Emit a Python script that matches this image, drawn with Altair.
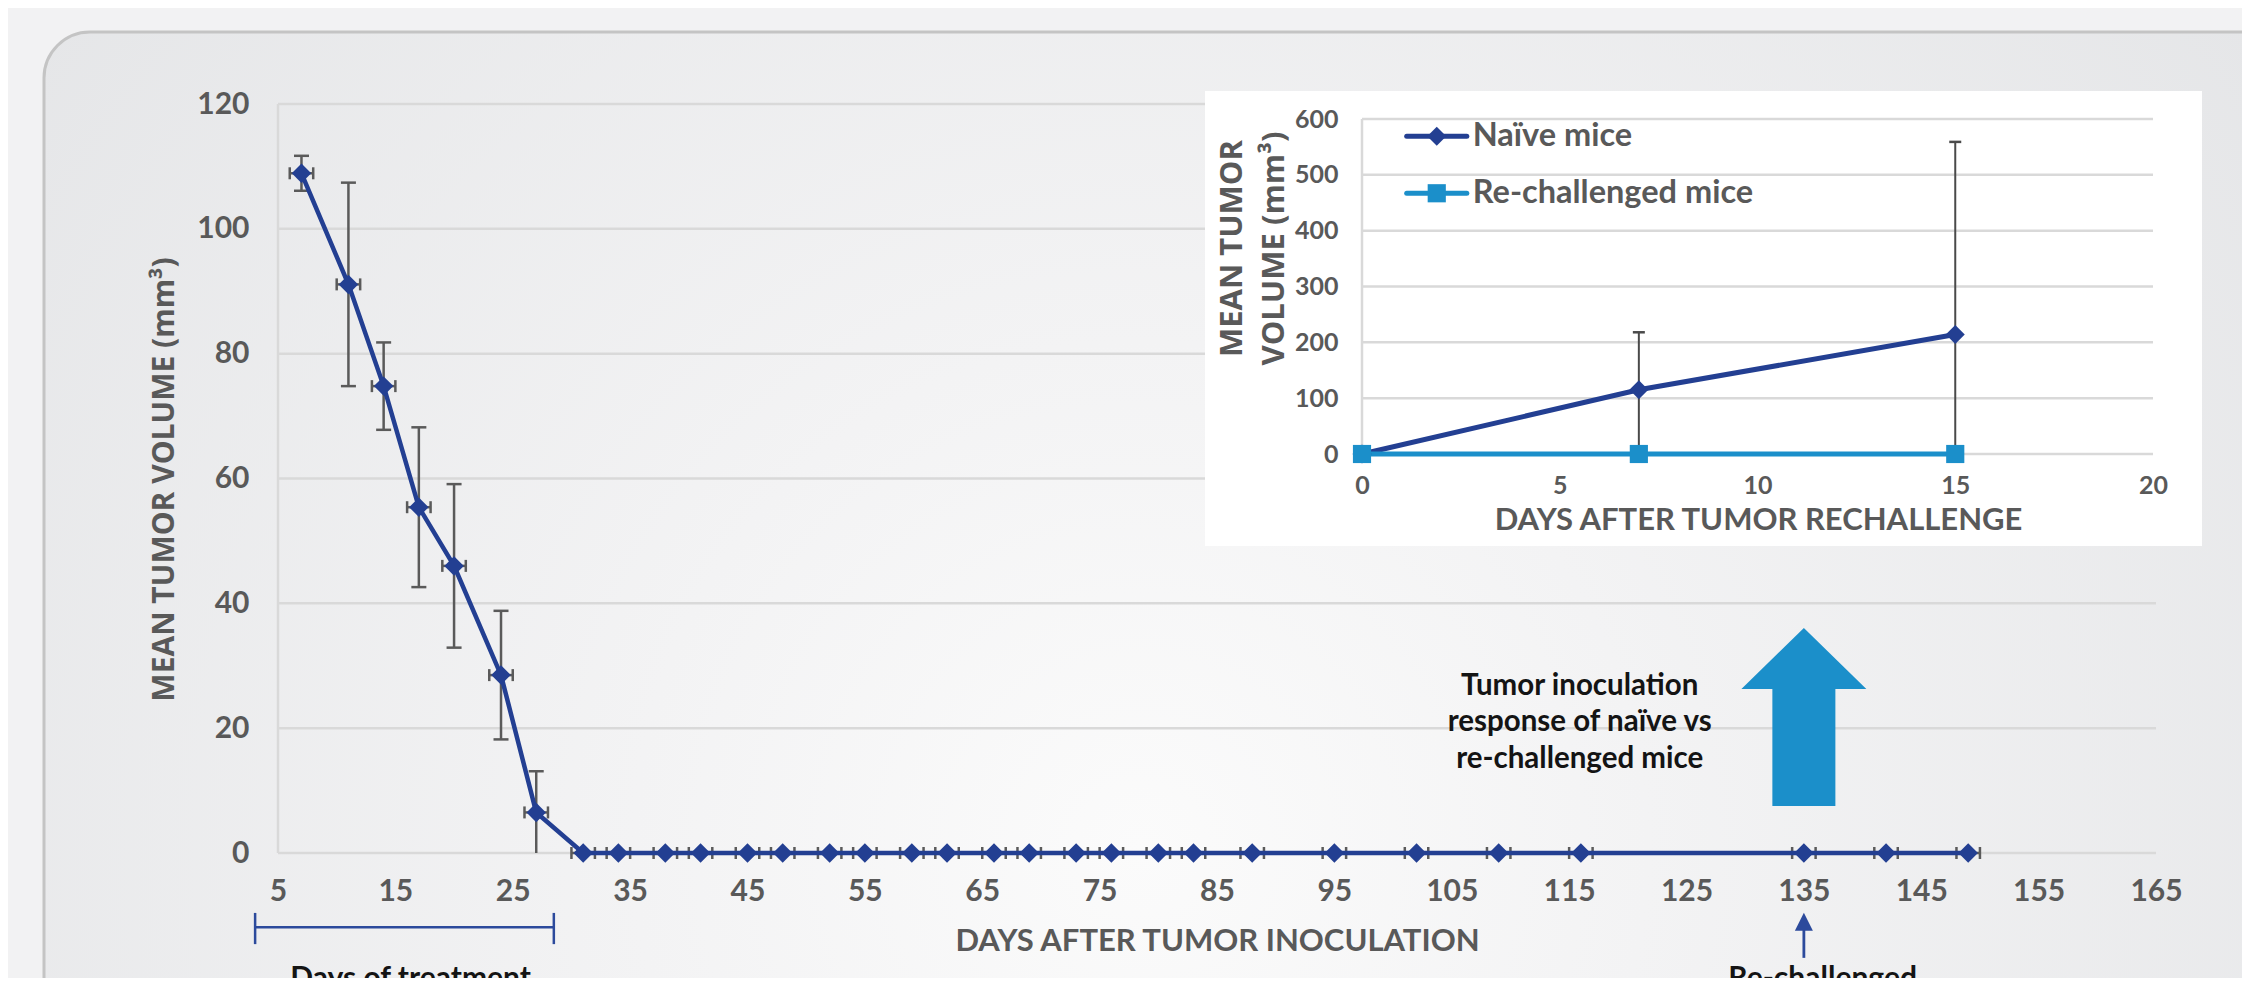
import altair as alt
import pandas as pd

# ---------------- data ----------------
tumor_days = [7, 11, 14, 17, 20, 24, 27, 31, 34, 38, 41, 45, 48, 52, 55, 59,
              62, 66, 69, 73, 76, 80, 83, 88, 95, 102, 109, 116, 135, 142, 149]
tumor_mean = [108.9, 91.1, 74.8, 55.4, 46.0, 28.5, 6.5, 0, 0, 0, 0, 0, 0, 0, 0, 0,
              0, 0, 0, 0, 0, 0, 0, 0, 0, 0, 0, 0, 0, 0, 0]
tumor_sd = [2.8, 16.3, 7.0, 12.8, 13.1, 10.3, 6.6, 0, 0, 0, 0, 0, 0, 0, 0, 0,
            0, 0, 0, 0, 0, 0, 0, 0, 0, 0, 0, 0, 0, 0, 0]
day_sd = [1, 1, 1, 1, 1, 1, 1, 1, 1, 1, 1, 1, 1, 1, 1, 1,
          1, 1, 1, 1, 1, 1, 1, 1, 1, 1, 1, 1, 1, 1, 1]

rechallenge_days = [0, 7, 15]
naive_mean = [0, 115, 214]
naive_sd = [0, 103, 345]
rechallenged_mean = [0, 0, 0]

series_names = ["Naïve mice", "Re-challenged mice"]

main_x_ticks = [5, 15, 25, 35, 45, 55, 65, 75, 85, 95, 105, 115, 125, 135, 145, 155, 165]
main_y_ticks = [0, 20, 40, 60, 80, 100, 120]
inset_x_ticks = [0, 5, 10, 15, 20]
inset_y_ticks = [0, 100, 200, 300, 400, 500, 600]

note_lines = ["Tumor inoculation", "response of naïve vs", "re-challenged mice"]
treatment_label = "Days of treatment"
rechallenge_label = "Re-challenged"

# ---------------- styles / layout ----------------
NAVY = "#233f92"
CYAN = "#1b8fca"
TXT = "#595959"
ERR = "#5a5a5a"
GRID = "#d9d9d9"
FONT = "Lato"
W, H = 1878, 749

main_df = pd.DataFrame({"day": tumor_days, "mean": tumor_mean, "sd": tumor_sd, "dsd": day_sd})
main_df["lo"] = (main_df["mean"] - main_df["sd"]).clip(lower=0)
main_df["hi"] = main_df["mean"] + main_df["sd"]
main_df["dlo"] = main_df["day"] - main_df["dsd"]
main_df["dhi"] = main_df["day"] + main_df["dsd"]
main_df["rawlo"] = main_df["mean"] - main_df["sd"]

inset_df = pd.DataFrame({
    "day": rechallenge_days + rechallenge_days,
    "mean": naive_mean + rechallenged_mean,
    "sd": naive_sd + [0, 0, 0],
    "series": [series_names[0]] * 3 + [series_names[1]] * 3,
})
inset_df["lo"] = (inset_df["mean"] - inset_df["sd"]).clip(lower=0)
inset_df["hi"] = inset_df["mean"] + inset_df["sd"]
inset_df["rawlo"] = inset_df["mean"] - inset_df["sd"]

main_x_scale = alt.Scale(domain=[5, 165], nice=False, zero=False)
main_y_scale = alt.Scale(domain=[0, 120], nice=False)
inset_x_scale = alt.Scale(domain=[0, 20], range=[1084, 1875], nice=False)
inset_y_scale = alt.Scale(domain=[0, 600], range=[350, 15], nice=False)

main_x_axis = alt.Axis(orient="bottom", values=main_x_ticks, grid=False, domain=False, ticks=False,
                       labelFont=FONT, labelFontWeight="bold", labelFontSize=30, labelColor=TXT,
                       labelPadding=23, labelFlush=False, labelOverlap=False,
                       title="DAYS AFTER TUMOR INOCULATION", titleFont=FONT, titleFontWeight="bold",
                       titleFontSize=31, titleColor=TXT, titleX=939, titleY=97,
                       titleAlign="center", titleBaseline="alphabetic", zindex=1)
main_y_axis = alt.Axis(orient="left", values=main_y_ticks, grid=False, domain=False, ticks=False,
                       labelFont=FONT, labelFontWeight="bold", labelFontSize=30, labelColor=TXT,
                       labelPadding=29, labelOverlap=False,
                       title="MEAN TUMOR VOLUME (mm³)", titleFont="Open Sans", titleFontWeight="bold",
                       titleFontSize=30, titleColor=TXT, titleX=-105, titleY=375, titleAngle=270,
                       titleAlign="center", titleBaseline="alphabetic", zindex=1)
inset_x_axis = alt.Axis(orient="bottom", offset=-399, values=inset_x_ticks, grid=False, domain=False,
                        ticks=False, labelFont=FONT, labelFontWeight="bold", labelFontSize=25,
                        labelColor=TXT, labelPadding=19, labelFlush=False, labelOverlap=False,
                        title="DAYS AFTER TUMOR RECHALLENGE", titleFont=FONT, titleFontWeight="bold",
                        titleFontSize=31, titleColor=TXT, titleX=1480, titleY=75,
                        titleAlign="center", titleBaseline="alphabetic", zindex=1)
inset_y_axis = alt.Axis(orient="left", offset=-1084, values=inset_y_ticks, grid=False, domain=False,
                        ticks=False, labelFont=FONT, labelFontWeight="bold", labelFontSize=25,
                        labelColor=TXT, labelPadding=24, labelOverlap=False,
                        title=["MEAN TUMOR", "VOLUME (mm³)"], titleFont="Open Sans",
                        titleFontWeight="bold", titleFontSize=31, titleColor=TXT,
                        titleX=-121, titleY=144, titleAngle=270, titleLineHeight=42,
                        titleAlign="center", titleBaseline="alphabetic", zindex=1)


def MX(f):
    return alt.X(f, type="quantitative", scale=main_x_scale, axis=main_x_axis)


def MY(f):
    return alt.Y(f, type="quantitative", scale=main_y_scale, axis=main_y_axis)


def IX(f):
    return alt.X(f, type="quantitative", scale=inset_x_scale, axis=inset_x_axis)


def IY(f):
    return alt.Y(f, type="quantitative", scale=inset_y_scale, axis=inset_y_axis)


one = pd.DataFrame({"k": [0]})

# ---------------- main panel ----------------
panel = alt.Chart(one).mark_rect(
    cornerRadius=46, stroke="#c4c4c4", strokeWidth=3,
    fill=alt.RadialGradient(
        gradient="radial", x1=0.47, y1=0.62, r1=0, x2=0.47, y2=0.62, r2=0.62,
        stops=[alt.GradientStop(color="#fbfbfb", offset=0),
               alt.GradientStop(color="#f3f3f4", offset=0.35),
               alt.GradientStop(color="#e4e5e7", offset=1)])
).encode(x=alt.value(-234), x2=alt.value(2100), y=alt.value(-72), y2=alt.value(1000))

grid_df = pd.DataFrame({"v": main_y_ticks, "x0": 5, "x1": 165})
main_grid = alt.Chart(grid_df).mark_rule(color=GRID, strokeWidth=2.5).encode(
    y=MY("v"), x=MX("x0"), x2=alt.X2("x1"))
main_vline = alt.Chart(pd.DataFrame({"x": [5], "y0": [0], "y1": [120]})).mark_rule(
    color=GRID, strokeWidth=2.5).encode(x=MX("x"), y=MY("y0"), y2=alt.Y2("y1"))

arrow_path = "M0,-1L0.702,-0.315L0.354,-0.315L0.354,1L-0.354,1L-0.354,-0.315L-0.702,-0.315Z"
big_arrow = alt.Chart(pd.DataFrame({"x": [135], "y": [21.8]})).mark_point(
    shape=arrow_path, filled=True, size=31684, color=CYAN, opacity=1, strokeWidth=0
).encode(x=MX("x"), y=MY("y"))

note = alt.Chart(pd.DataFrame({"x": [115.9], "y": [26.8], "t": ["\n".join(note_lines)]})).mark_text(
    font=FONT, fontWeight="bold", fontSize=29.5, color="#141414", align="center",
    baseline="middle", lineBreak="\n", lineHeight=36.5
).encode(x=MX("x"), y=MY("y"), text="t:N")

base = alt.Chart(main_df)
vbars = base.transform_filter("datum.sd > 0").mark_rule(color=ERR, strokeWidth=2.5).encode(
    x=MX("day"), y=MY("lo"), y2=alt.Y2("hi"))
hbars = base.mark_rule(color=ERR, strokeWidth=2.5).encode(
    y=MY("mean"), x=MX("dlo"), x2=alt.X2("dhi"))
vcap_hi = base.transform_filter("datum.sd > 0").mark_tick(
    orient="horizontal", size=15, thickness=2.5, color=ERR, opacity=1).encode(x=MX("day"), y=MY("hi"))
vcap_lo = base.transform_filter("datum.sd > 0 && datum.rawlo > 0").mark_tick(
    orient="horizontal", size=15, thickness=2.5, color=ERR, opacity=1).encode(x=MX("day"), y=MY("lo"))
hcap_lo = base.mark_tick(orient="vertical", size=12, thickness=2.5, color=ERR, opacity=1).encode(
    x=MX("dlo"), y=MY("mean"))
hcap_hi = base.mark_tick(orient="vertical", size=12, thickness=2.5, color=ERR, opacity=1).encode(
    x=MX("dhi"), y=MY("mean"))
main_line = base.mark_line(color=NAVY, strokeWidth=4.5).encode(x=MX("day"), y=MY("mean"))
main_pts = base.mark_point(shape="diamond", filled=True, size=380, color=NAVY, opacity=1).encode(
    x=MX("day"), y=MY("mean"))

# bottom annotations
bracket = alt.Chart(pd.DataFrame({"x0": [3.05], "x1": [28.5], "y": [-11.9]})).mark_rule(
    color="#2c4a9c", strokeWidth=2.5).encode(x=MX("x0"), x2=alt.X2("x1"), y=MY("y"))
bracket_ends = alt.Chart(pd.DataFrame({"x": [3.05, 28.5], "y0": [-9.6, -9.6], "y1": [-14.6, -14.6]})).mark_rule(
    color="#2c4a9c", strokeWidth=2.5).encode(x=MX("x"), y=MY("y0"), y2=alt.Y2("y1"))
bottom_text = alt.Chart(pd.DataFrame({"x": [16.3, 136.6], "y": [-17.8, -17.8],
                                      "t": [treatment_label, rechallenge_label]})).mark_text(
    font=FONT, fontWeight="bold", fontSize=30, color="#141414", align="center", baseline="top"
).encode(x=MX("x"), y=MY("y"), text="t:N")
small_shaft = alt.Chart(pd.DataFrame({"x": [135], "y0": [-12.0], "y1": [-16.8]})).mark_rule(
    color="#2c4a9c", strokeWidth=2.8).encode(x=MX("x"), y=MY("y0"), y2=alt.Y2("y1"))
small_head = alt.Chart(pd.DataFrame({"x": [135], "y": [-11.0]})).mark_point(
    shape="M0,-1L1,1L-1,1Z", filled=True, size=324, color="#2c4a9c", opacity=1, strokeWidth=0
).encode(x=MX("x"), y=MY("y"))

main = alt.layer(panel, main_grid, main_vline, big_arrow, note, vbars, hbars, vcap_hi, vcap_lo,
                 hcap_lo, hcap_hi, main_line, main_pts, bracket, bracket_ends, bottom_text,
                 small_shaft, small_head)

# ---------------- inset ----------------
inset_box = alt.Chart(one).mark_rect(fill="white").encode(
    x=alt.value(927), x2=alt.value(1924), y=alt.value(-13), y2=alt.value(442))
igrid_df = pd.DataFrame({"v": inset_y_ticks, "x0": 0, "x1": 20})
inset_grid = alt.Chart(igrid_df).mark_rule(color=GRID, strokeWidth=2.5).encode(
    y=IY("v"), x=IX("x0"), x2=alt.X2("x1"))
inset_vline = alt.Chart(pd.DataFrame({"x": [0], "y0": [0], "y1": [600]})).mark_rule(
    color=GRID, strokeWidth=2.5).encode(x=IX("x"), y=IY("y0"), y2=alt.Y2("y1"))

ibase = alt.Chart(inset_df)
color_scale = alt.Scale(domain=series_names, range=[NAVY, CYAN])
shape_scale = alt.Scale(domain=series_names, range=["diamond", "square"])
size_scale = alt.Scale(domain=series_names, range=[360, 330])

ierr = ibase.transform_filter("datum.sd > 0").mark_rule(color="#4a4a4a", strokeWidth=2).encode(
    x=IX("day"), y=IY("lo"), y2=alt.Y2("hi"))
icap_hi = ibase.transform_filter("datum.sd > 0").mark_tick(
    orient="horizontal", size=12, thickness=2.5, color="#4a4a4a", opacity=1).encode(x=IX("day"), y=IY("hi"))
icap_lo = ibase.transform_filter("datum.sd > 0 && datum.rawlo > 0").mark_tick(
    orient="horizontal", size=12, thickness=2.5, color="#4a4a4a", opacity=1).encode(x=IX("day"), y=IY("lo"))
ilines = ibase.mark_line(strokeWidth=5).encode(
    x=IX("day"), y=IY("mean"),
    color=alt.Color("series:N", scale=color_scale, legend=None),
    detail="series:N", order=alt.Order("day:Q"))
ipts = ibase.mark_point(filled=True, opacity=1).encode(
    x=IX("day"), y=IY("mean"),
    color=alt.Color("series:N", scale=color_scale, legend=None),
    shape=alt.Shape("series:N", scale=shape_scale, legend=None),
    size=alt.Size("series:N", scale=size_scale, legend=None))

leg_df = pd.DataFrame({"series": series_names, "y": [569, 467],
                       "x0": [1.13, 1.13], "x1": [2.65, 2.65], "xm": [1.89, 1.89], "xt": [2.8, 2.8]})
lbase = alt.Chart(leg_df)
leg_lines = lbase.mark_rule(strokeWidth=5, strokeCap="round").encode(
    x=IX("x0"), x2=alt.X2("x1"), y=IY("y"),
    color=alt.Color("series:N", scale=color_scale, legend=None))
leg_pts = lbase.mark_point(filled=True, opacity=1).encode(
    x=IX("xm"), y=IY("y"),
    color=alt.Color("series:N", scale=color_scale, legend=None),
    shape=alt.Shape("series:N", scale=shape_scale, legend=None),
    size=alt.Size("series:N", scale=size_scale, legend=None))
leg_text = lbase.mark_text(font=FONT, fontWeight="bold", fontSize=32.5, color=TXT,
                           align="left", baseline="middle").encode(
    x=IX("xt"), y=IY("y"), text="series:N")

inset = alt.layer(inset_box, inset_grid, inset_vline, ierr, icap_hi, icap_lo, ilines, ipts,
                  leg_lines, leg_pts, leg_text)

chart = alt.layer(main, inset).resolve_scale(
    x="independent", y="independent", color="independent", shape="independent", size="independent"
).properties(
    width=W, height=H,
    padding={"left": 270, "top": 96, "right": 86, "bottom": 125},
    autosize=alt.AutoSizeParams(type="none"),
    background="#f2f2f3",
).configure_view(stroke=None)

chart.save("out.html", embed_options={"renderer": "svg", "actions": False})
